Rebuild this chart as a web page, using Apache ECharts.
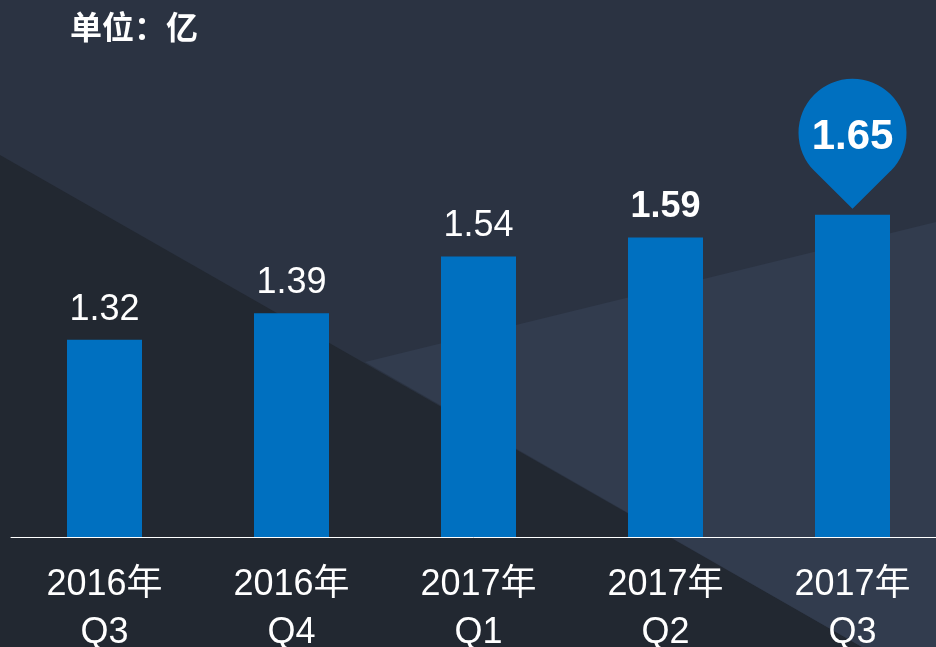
<!DOCTYPE html>
<html>
<head>
<meta charset="utf-8">
<script src="https://cdn.jsdelivr.net/npm/echarts@6/dist/echarts.min.js"></script>
<style>
  html, body { margin: 0; padding: 0; background: #2b3342; }
  #main { width: 936px; height: 647px; }
</style>
</head>
<body>
<div id="main"></div>
<script>
// 数据
var categories = ['2016年\nQ3', '2016年\nQ4', '2017年\nQ1', '2017年\nQ2', '2017年\nQ3'];
var values = [1.32, 1.39, 1.54, 1.59, 1.65];
var boldIndex = 3;   // 1.59 加粗
var pinIndex = 4;    // 1.65 用气泡标出
var unitText = '单位：亿';

// 水滴形气泡：圆半径54，尖端在圆心下方76
var pinPath = 'path://M-38,38.4 A54,54 0 1 1 38,38.4 L0,76 Z';

var chart = echarts.init(document.getElementById('main'));

var barData = values.map(function (v, i) {
  var item = { value: v };
  if (i === boldIndex) item.label = { fontWeight: 'bold' };
  if (i === pinIndex) item.label = { show: false };
  return item;
});

chart.setOption({
  backgroundColor: '#2b3342',
  animation: false,
  title: {
    text: unitText,
    left: 65,
    top: 6,
    textStyle: {
      color: '#ffffff',
      fontSize: 32,
      fontWeight: 'bold',
      fontFamily: 'Noto Sans CJK SC'
    }
  },
  // 背景里的斜向色块
  graphic: [
    {
      type: 'polygon',
      z: -10,
      shape: { points: [[0, 155], [862, 647], [0, 647]] },
      style: { fill: '#222831' }
    },
    {
      type: 'polygon',
      z: -10,
      shape: { points: [[365, 362], [936, 222], [936, 647], [862, 647]] },
      style: { fill: '#323c4e' }
    }
  ],
  grid: {
    left: 11,
    width: 935,
    top: 82,
    bottom: 110,
    outerBoundsMode: 'none'
  },
  xAxis: {
    type: 'category',
    data: categories,
    axisLine: { lineStyle: { color: '#ffffff', width: 1 } },
    axisTick: { show: false },
    axisLabel: {
      color: '#ffffff',
      fontSize: 36,
      lineHeight: 48,
      margin: 24,
      interval: 0,
      fontFamily: 'Liberation Sans, Noto Sans CJK SC'
    }
  },
  yAxis: {
    type: 'value',
    min: 0.8,
    max: 2.0,
    show: false
  },
  series: [
    {
      type: 'bar',
      data: barData,
      barWidth: 75,
      itemStyle: { color: '#0070c0' },
      label: {
        show: true,
        position: 'top',
        distance: 12,
        color: '#ffffff',
        fontSize: 36,
        fontFamily: 'Liberation Sans'
      },
      markPoint: {
        symbol: pinPath,
        symbolSize: [108, 130],
        symbolOffset: [0, -71],
        itemStyle: { color: '#0070c0' },
        label: {
          show: true,
          position: 'inside',
          color: '#ffffff',
          fontSize: 42,
          fontWeight: 'bold',
          fontFamily: 'Liberation Sans',
          offset: [0, -6]
        },
        data: [{ coord: [pinIndex, values[pinIndex]], value: values[pinIndex] }]
      }
    }
  ]
});
</script>
</body>
</html>
